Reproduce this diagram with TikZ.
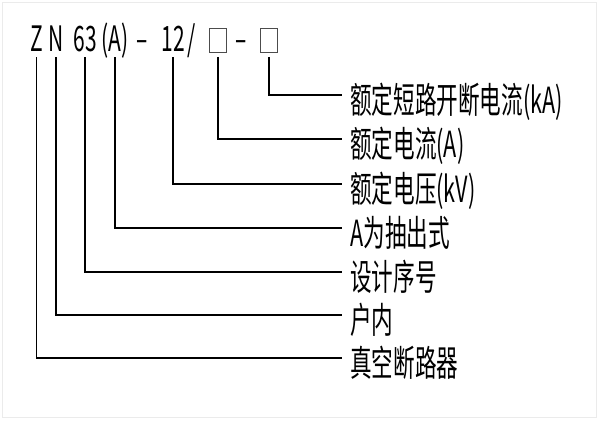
\documentclass[tikz,border=0pt]{standalone}
\usepackage{fontspec}
\setmainfont{Noto Sans CJK SC}
\usetikzlibrary{positioning}

\begin{document}
\begin{tikzpicture}[x=0.5pt,y=-0.5pt,
  code/.style={font=\fontsize{17.5}{17.5}\selectfont,xscale=0.6,anchor=base,
    inner xsep=0pt,inner ysep=2.5pt,text depth=0pt},
  blank/.style={draw=black!70,line width=0.5pt,minimum width=8.5pt,
    minimum height=12pt,inner sep=0pt,outer sep=2pt},
  lbl/.style={font=\fontsize{18}{18}\selectfont,xscale=0.6,anchor=west,
    inner xsep=6.7pt,inner ysep=0pt,text height=20.1pt,text depth=1.6pt},
  lead/.style={line width=0.75pt}]
  \useasboundingbox (0,0) rectangle (600,422);
  \draw[black!8] (2,2) rectangle (596,417);
  % model code
  \node[code] (zZ)  at (36.5,52) {Z};
  \node[code] (zN)  at (56,52)   {N};
  \node[code] (z63) at (85,52)   {63};
  \node[code] (zA)  at (115,52)  {(A)};
  \node[code] (d1)  at (142,52)  {–};
  \node[code] (z12) at (173,52)  {12};
  \node[code] (sl)  at (191.5,52) {/};
  \node[blank] (b1) at (218,41) {};
  \node[code] (d2)  at (241,52)  {–};
  \node[blank] (b2) at (269,41) {};
  % meanings
  \node[lbl] (r1) at (342,95)  {额定短路开断电流(kA)};
  \node[lbl] (r2) at (342,139) {额定电流(A)};
  \node[lbl] (r3) at (342,184) {额定电压(kV)};
  \node[lbl] (r4) at (342,228) {A为抽出式};
  \node[lbl] (r5) at (342,272) {设计序号};
  \node[lbl] (r6) at (342,315) {户内};
  \node[lbl] (r7) at (342,358) {真空断路器};
  \foreach \a/\b in {zZ/r7,zN/r6,z63/r5,zA/r4,z12/r3,b1/r2,b2/r1}
    \draw[lead] (\a.south) |- (\b.west);
\end{tikzpicture}
\end{document}
